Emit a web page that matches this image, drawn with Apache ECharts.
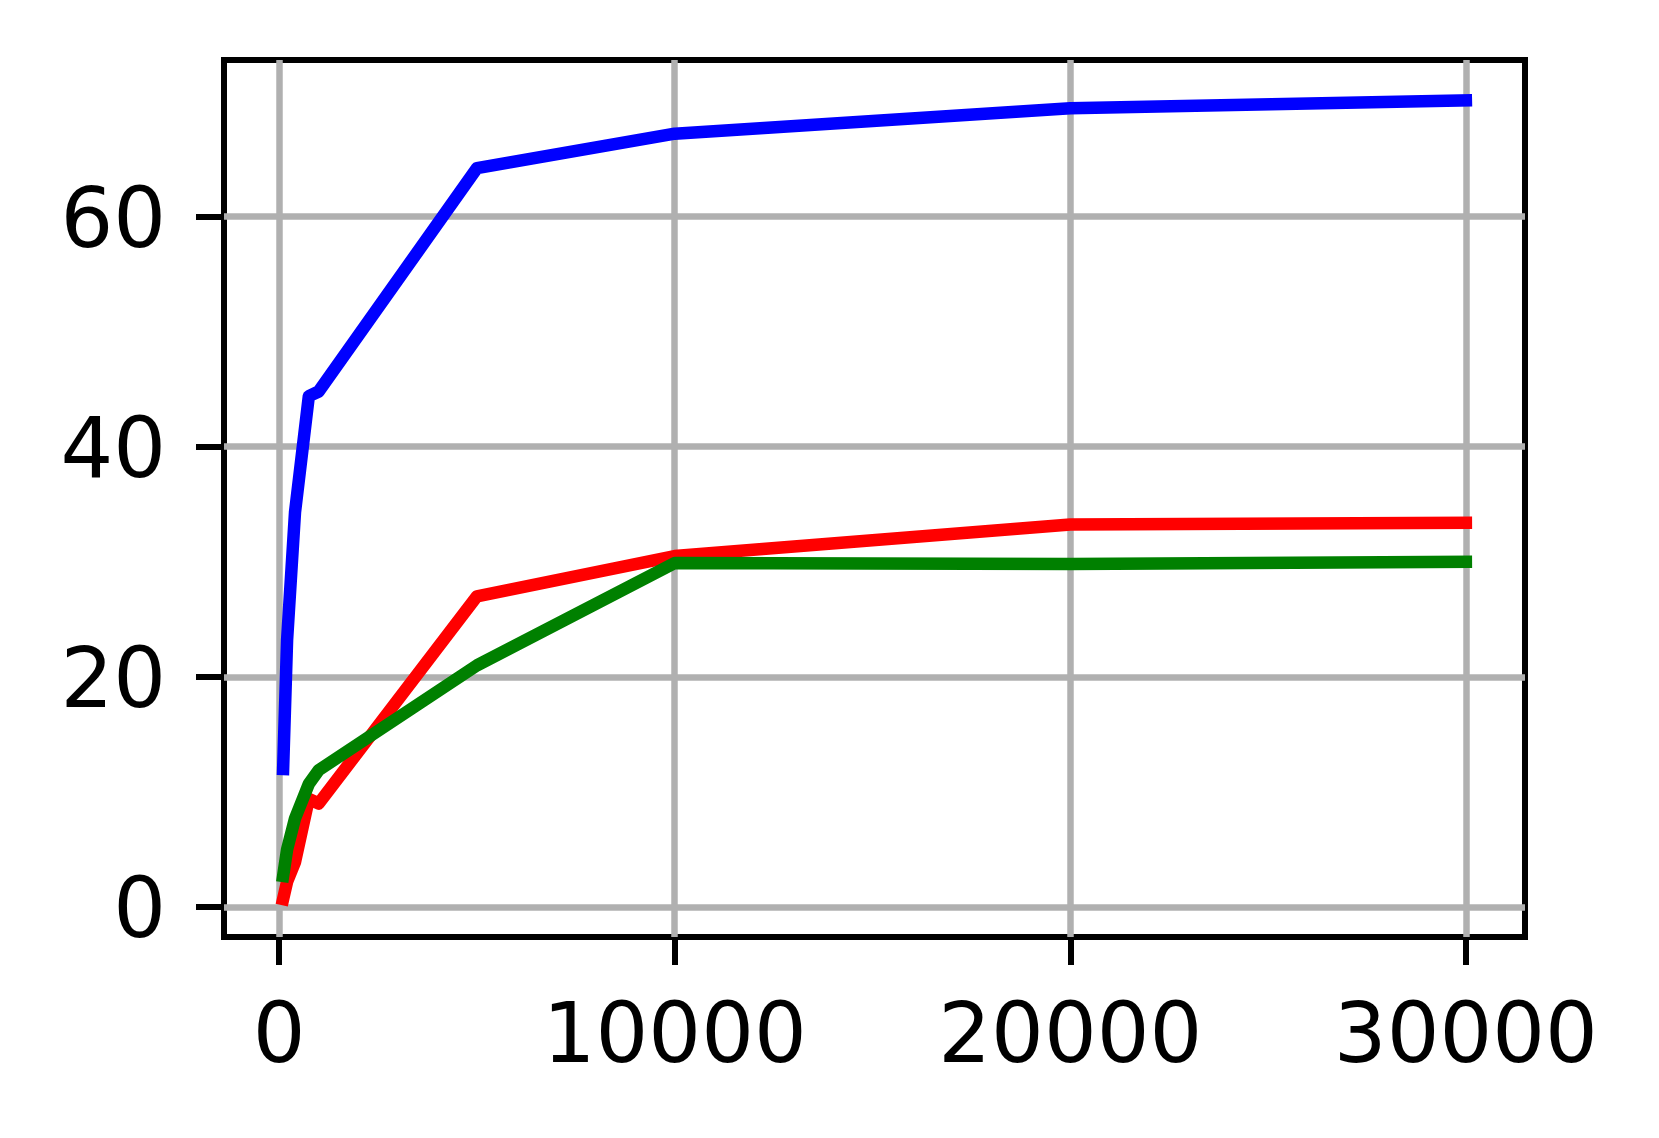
<!DOCTYPE html>
<html>
<head>
<meta charset="utf-8">
<title>Line chart</title>
<script src="https://cdn.jsdelivr.net/npm/echarts@6/dist/echarts.min.js"></script>
<style>
  html, body { margin: 0; padding: 0; background: #fff; }
  #chart { width: 1659px; height: 1138px; }
</style>
</head>
<body>
<div id="chart"></div>
<script>
// x positions shared by all three curves
const xValues = [100, 200, 400, 750, 1000, 5000, 10000, 20000, 30000];

// curves
const blueValues = [12.0, 23.2, 34.3, 44.4, 44.8, 64.2, 67.2, 69.4, 70.1];
const redValues = [0.7, 2.2, 3.9, 9.4, 9.0, 27.0, 30.5, 33.25, 33.4];
const greenValues = [2.7, 5.0, 7.7, 10.7, 11.9, 21.0, 29.9, 29.8, 30.0];

// tick labels
const xTicks = [0, 10000, 20000, 30000];
const yTicks = [0, 20, 40, 60];

function pairs(ys) {
  return xValues.map((x, i) => [x, ys[i]]);
}

function lineSeries(name, color, ys) {
  return {
    name: name,
    type: "line",
    data: pairs(ys),
    symbol: "none",
    showSymbol: false,
    animation: false,
    lineStyle: { color: color, width: 12.5, cap: "square", join: "round" },
  };
}

const chart = echarts.init(document.getElementById("chart"));

const tickStyle = { show: true, inside: false, length: 28, lineStyle: { color: "#000", width: 6 } };
const labelStyle = {
  color: "#000",
  fontSize: 83,
  fontFamily: "DejaVu Sans",
  formatter: (v) => String(v),
};
const gridLine = { show: true, lineStyle: { color: "#b0b0b0", width: 6.5 } };
const noLine = { show: false, onZero: false };

chart.setOption({
  animation: false,
  backgroundColor: "#fff",
  grid: {
    left: 224,
    right: 134,
    top: 60,
    bottom: 201,
    show: true,
    borderColor: "#000",
    borderWidth: 6,
    backgroundColor: "transparent",
  },
  xAxis: {
    type: "value",
    position: "bottom",
    min: -1395,
    max: 31495,
    axisLine: noLine,
    axisTick: Object.assign({ customValues: xTicks }, tickStyle),
    axisLabel: Object.assign({ customValues: xTicks, margin: 62 }, labelStyle),
    splitLine: gridLine,
  },
  yAxis: {
    type: "value",
    position: "left",
    min: -2.6,
    max: 73.6,
    axisLine: noLine,
    axisTick: Object.assign({ customValues: yTicks }, tickStyle),
    axisLabel: Object.assign({ customValues: yTicks, margin: 58 }, labelStyle, {
      // nudge the text down a little so it sits centred on the tick like the original
      formatter: (v) => "{v|" + v + "}",
      rich: { v: { fontSize: 83, fontFamily: "DejaVu Sans", color: "#000", padding: [17, 0, 0, 0] } },
    }),
    splitLine: gridLine,
  },
  series: [
    lineSeries("blue", "#0000ff", blueValues),
    lineSeries("red", "#ff0000", redValues),
    lineSeries("green", "#008000", greenValues),
  ],
});
</script>
</body>
</html>
